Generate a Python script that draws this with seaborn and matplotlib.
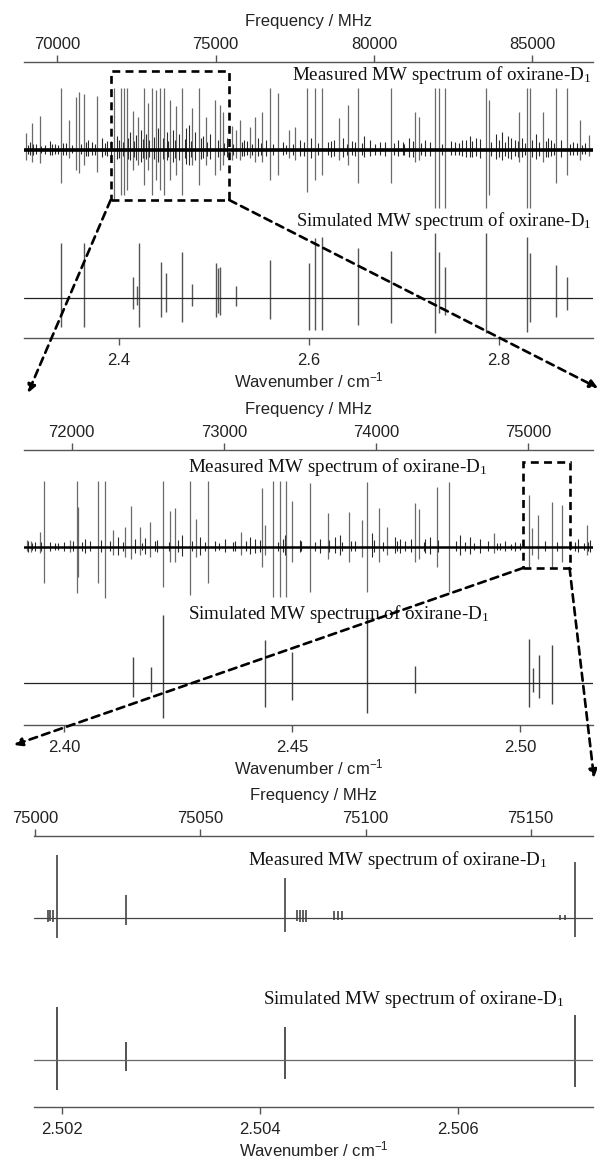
import matplotlib
matplotlib.use("Agg")
import matplotlib.pyplot as plt
import seaborn as sns
import pandas as pd
from matplotlib.patches import ConnectionPatch, Rectangle

MHZ_PER_WN = 29979.2458

# ---------------- Panel 1 (overview) ----------------
p1_xlim = (2.300, 2.899)
p1_bottom_ticks = [2.4, 2.6, 2.8]
p1_top_ticks = [70000, 75000, 80000, 85000]
p1_meas_wn = [2.3021, 2.3084, 2.3168, 2.3389, 2.3474, 2.3547, 2.3579, 2.3632, 2.3768, 2.3947,
              2.4021, 2.4053, 2.4084, 2.4147, 2.4200, 2.4263, 2.4305, 2.4347, 2.4389, 2.4432,
              2.4474, 2.4537, 2.4600, 2.4663, 2.4768, 2.4842, 2.4916, 2.5011, 2.5063, 2.5095,
              2.5189, 2.5232, 2.5274, 2.5379, 2.5432, 2.5505, 2.5589, 2.5674, 2.5789, 2.5853,
              2.5979, 2.6063, 2.6137, 2.6316, 2.6411, 2.6516, 2.6863, 2.7116, 2.7158, 2.7326,
              2.7368, 2.7432, 2.7863, 2.7895, 2.8211, 2.8295, 2.8326, 2.8463, 2.8600, 2.8716,
              2.8853, 2.8947]
p1_meas_up = [17, 27, 34, 62, 30, 53, 58, 56, 54, 62,
              62, 62, 62, 39, 33, 62, 47, 62, 60, 62,
              62, 50, 44, 62, 42, 62, 33, 50, 45, 38,
              24, 20, 30, 23, 33, 38, 62, 57, 20, 23,
              62, 62, 62, 32, 45, 62, 62, 38, 33, 62,
              62, 62, 62, 50, 38, 62, 62, 38, 62, 62,
              30, 15]
p1_meas_dn = [10, 12, 13, 33, 8, 20, 23, 15, 22, 50,
              45, 45, 40, 20, 15, 35, 20, 45, 30, 40,
              45, 30, 25, 45, 15, 35, 15, 25, 20, 15,
              10, 8, 10, 8, 12, 12, 30, 25, 8, 10,
              42, 30, 25, 10, 15, 33, 33, 12, 10, 58,
              58, 58, 58, 45, 12, 58, 58, 12, 33, 25,
              10, 6]
p1_grass_wn = [2.3063, 2.3126, 2.3221, 2.3274, 2.3326, 2.3442, 2.3505, 2.3674, 2.3716, 2.3821,
               2.3874, 2.3979, 2.4116, 2.4179, 2.4232, 2.4284, 2.4411, 2.4505, 2.4568, 2.4632,
               2.4705, 2.4737, 2.4800, 2.4884, 2.4958, 2.5137, 2.5316, 2.5347, 2.5463, 2.5547,
               2.5726, 2.5905, 2.6021, 2.6200, 2.6263, 2.6358, 2.6453, 2.6579, 2.6642, 2.6747,
               2.6937, 2.6989, 2.7053, 2.7221, 2.7495, 2.7537, 2.7611, 2.7695, 2.7758, 2.7968,
               2.8032, 2.8095, 2.8168, 2.8242, 2.8389, 2.8516, 2.8547, 2.8779, 2.8905,
               2.3040, 2.3100, 2.3180, 2.3300, 2.3360, 2.3410, 2.3600, 2.3650, 2.3750, 2.3850,
               2.3920, 2.4000, 2.4040, 2.4100, 2.4160, 2.4250, 2.4320, 2.4370, 2.4460, 2.4520,
               2.4590, 2.4690, 2.4760, 2.4860, 2.4930, 2.5040, 2.5110, 2.5200, 2.5290, 2.5400,
               2.5490, 2.5620, 2.5760, 2.5830, 2.5950, 2.6100, 2.6230, 2.6400, 2.6480, 2.6560,
               2.6700, 2.6800, 2.6900, 2.7000, 2.7090, 2.7180, 2.7270, 2.7400, 2.7580, 2.7650,
               2.7720, 2.7800, 2.7920, 2.8000, 2.8060, 2.8130, 2.8200, 2.8270, 2.8350, 2.8420,
               2.8490, 2.8580, 2.8650, 2.8750, 2.8820, 2.8870]
p1_grass_up = [8, 6, 5, 9, 6, 7, 5, 10, 8, 12, 9, 14, 18, 15, 20, 16, 22, 18, 20, 16,
               22, 25, 18, 14, 16, 12, 10, 9, 12, 10, 8, 10, 12, 8, 10, 12, 9, 14, 10, 8,
               10, 8, 12, 10, 9, 8, 10, 14, 12, 16, 18, 14, 10, 12, 16, 12, 10, 8, 7,
               5, 6, 4, 6, 5, 7, 6, 8, 6, 7, 9, 10, 8, 12, 9, 11, 10, 13, 12, 9,
               10, 11, 9, 12, 8, 10, 7, 6, 8, 6, 7, 6, 5, 6, 8, 7, 9, 6, 8, 7,
               6, 8, 7, 6, 9, 7, 8, 6, 7, 10, 9, 11, 8, 10, 8, 12, 9, 7, 10, 8,
               9, 7, 10, 6, 7, 5]
p1_grass_dn = [5, 4, 4, 5, 4, 5, 3, 6, 5, 7, 6, 9, 10, 10, 12, 9, 12, 10, 12, 10,
               14, 15, 10, 8, 9, 7, 6, 5, 6, 6, 5, 6, 8, 5, 6, 7, 5, 7, 6, 5,
               6, 5, 7, 6, 5, 5, 6, 7, 6, 9, 10, 8, 6, 7, 9, 7, 6, 5, 4,
               4, 5, 3, 5, 4, 5, 4, 6, 5, 5, 7, 8, 6, 9, 7, 8, 7, 9, 9, 7,
               8, 8, 7, 9, 6, 7, 5, 5, 6, 5, 5, 5, 4, 5, 6, 5, 7, 5, 6, 5,
               5, 6, 5, 5, 7, 5, 6, 5, 5, 7, 7, 8, 6, 7, 6, 9, 7, 5, 7, 6,
               7, 5, 7, 5, 5, 4]
p1_sim_wn = [2.3389, 2.3632, 2.4147, 2.4189, 2.4211, 2.4442, 2.4495, 2.4663, 2.4768, 2.5021,
             2.5042, 2.5063, 2.5232, 2.5589, 2.6000, 2.6063, 2.6137, 2.6516, 2.6863, 2.7326,
             2.7368, 2.7432, 2.7863, 2.8295, 2.8326, 2.8600, 2.8716]
p1_sim_up = [55, 55, 21, 12, 55, 36, 25, 46, 14, 35, 30, 31, 12, 38, 35, 60, 61, 50, 47, 65,
             46, 31, 65, 61, 45, 33, 21]
p1_sim_dn = [29, 29, 11, 7, 29, 19, 14, 24, 8, 19, 15, 17, 8, 21, 32, 32, 32, 27, 25, 35,
             15, 17, 35, 34, 24, 19, 12]

# ---------------- Panel 2 (zoom 1) ----------------
p2_xlim = (2.3912, 2.5160)
p2_bottom_ticks = [2.40, 2.45, 2.50]
p2_top_ticks = [72000, 73000, 74000, 75000]
p2_meas_wn = [2.39189, 2.39276, 2.39474, 2.39561, 2.40132, 2.40285, 2.40307, 2.40746, 2.40899, 2.41075,
              2.41338, 2.41469, 2.41667, 2.41886, 2.42171, 2.42325, 2.42434, 2.42763, 2.42895, 2.43158,
              2.43882, 2.44342, 2.44408, 2.44583, 2.44737, 2.44868, 2.45000, 2.45395, 2.45789, 2.46250,
              2.46535, 2.46645, 2.46908, 2.47083, 2.47697, 2.47785, 2.48180, 2.48443, 2.49430, 2.50197,
              2.50263, 2.50395, 2.50702, 2.50921, 2.51469]
p2_meas_up = [7, 6, 15, 66, 7, 66, 40, 66, 66, 17,
              20, 41, 20, 25, 66, 36, 39, 66, 28, 66,
              15, 59, 22, 66, 66, 66, 46, 64, 34, 35,
              27, 65, 39, 20, 44, 38, 60, 65, 14, 52,
              19, 32, 45, 42, 22]
p2_meas_dn = [4, 5, 6, 36, 5, 46, 30, 36, 51, 8,
              10, 12, 8, 10, 40, 15, 15, 48, 10, 36,
              8, 20, 8, 50, 50, 50, 15, 45, 12, 15,
              10, 45, 15, 8, 15, 12, 20, 45, 6, 20,
              8, 12, 20, 15, 8]
p2_grass_wn = [2.39211, 2.39364, 2.39693, 2.39868, 2.40461, 2.40570, 2.41184, 2.41557, 2.41776, 2.42039,
               2.42588, 2.42982, 2.43311, 2.43531, 2.43750, 2.44079, 2.44189, 2.44846, 2.45175, 2.45614,
               2.45943, 2.46053, 2.46382, 2.46754, 2.47259, 2.47368, 2.47478, 2.47917, 2.48026, 2.48684,
               2.48904, 2.49123, 2.49298, 2.49561, 2.49671, 2.49890, 2.50548, 2.51096, 2.51272, 2.51535,
               2.3930, 2.3950, 2.3980, 2.4000, 2.4020, 2.4040, 2.4080, 2.4100, 2.4130, 2.4170,
               2.4200, 2.4230, 2.4250, 2.4280, 2.4310, 2.4340, 2.4370, 2.4400, 2.4430, 2.4470,
               2.4480, 2.4520, 2.4550, 2.4580, 2.4610, 2.4630, 2.4680, 2.4700, 2.4730, 2.4760,
               2.4790, 2.4820, 2.4860, 2.4880, 2.4900, 2.4950, 2.4980, 2.5000, 2.5040, 2.5080,
               2.5120, 2.5140, 2.5150]
p2_grass_up = [6, 5, 5, 4, 8, 6, 10, 8, 9, 7, 12, 10, 6, 8, 6, 10, 8, 12, 7, 8,
               10, 12, 6, 14, 10, 8, 6, 8, 10, 12, 10, 8, 6, 4, 6, 5, 6, 5, 8, 7,
               4, 5, 4, 5, 6, 5, 7, 6, 5, 4, 6, 5, 7, 6, 5, 4, 5, 6, 7, 5,
               8, 6, 5, 7, 5, 6, 7, 5, 6, 8, 5, 7, 6, 5, 4, 4, 3, 4, 4, 5,
               5, 4, 5]
p2_grass_dn = [5, 4, 4, 3, 6, 4, 8, 6, 7, 5, 9, 8, 4, 5, 4, 7, 6, 8, 5, 6,
               6, 8, 4, 10, 6, 6, 4, 6, 7, 8, 7, 6, 4, 3, 4, 4, 4, 3, 5, 5,
               3, 4, 3, 4, 4, 4, 5, 4, 4, 3, 4, 4, 5, 4, 4, 3, 4, 4, 5, 4,
               5, 4, 4, 5, 4, 4, 5, 4, 4, 5, 4, 5, 4, 4, 3, 3, 3, 3, 3, 4,
               4, 3, 4]
p2_sim_wn = [2.41513, 2.41908, 2.42171, 2.44408, 2.45000, 2.46645, 2.47697, 2.50197, 2.50285, 2.50417, 2.50702]
p2_sim_up = [26, 16, 68, 43, 31, 68, 17, 44, 15, 28, 38]
p2_sim_dn = [14, 9, 35, 24, 17, 30, 10, 24, 9, 15, 21]

# ---------------- Panel 3 (zoom 2) ----------------
p3_xlim = (2.501717, 2.507364)
p3_bottom_ticks = [2.502, 2.504, 2.506]
p3_top_ticks = [75000, 75050, 75100, 75150]
p3_meas_wn = [2.501859, 2.501879, 2.501909, 2.501949, 2.502646, 2.504253, 2.504374, 2.504404,
              2.504434, 2.504465, 2.504747, 2.504788, 2.504828, 2.507030, 2.507081, 2.507182]
p3_meas_up = [8, 8, 8, 63, 23, 40, 8, 8, 8, 8, 7, 7, 7, 3, 3, 56]
p3_meas_dn = [4, 3, 4, 20, 7, 14, 3, 4, 4, 4, 2, 2, 2, 2, 2, 19]
p3_sim_wn = [2.501949, 2.502646, 2.504253, 2.507182]
p3_sim_up = [53, 18, 33, 45]
p3_sim_dn = [30, 11, 19, 27]

# zoom box (wavenumber range marked in panel 2)
box2_in_p2 = (2.50066, 2.51086)

label_meas = "Measured MW spectrum of oxirane-D$_1$"
label_sim = "Simulated MW spectrum of oxirane-D$_1$"

# ---------------- styling ----------------
sns.set_theme(style="white")
plt.rcParams["font.family"] = ["Liberation Sans", "DejaVu Sans"]
plt.rcParams["mathtext.default"] = "regular"
AXC = "#555555"

W, H = 597, 1157
fig = plt.figure(figsize=(W / 100, H / 100), dpi=100)


def fx(px):
    return px / W


def fy(py):
    return 1 - py / H


def make_panel(left, top, bottom, xlim, bticks, tticks, bfmt, right=593):
    ax = fig.add_axes([fx(left), fy(bottom), fx(right - left), (bottom - top) / H])
    ax.set_xlim(*xlim)
    ax.set_ylim(0, bottom - top)
    ax.set_facecolor("none")
    sns.despine(ax=ax, left=True, right=True, top=True, bottom=False)
    ax.spines["bottom"].set_color(AXC)
    ax.spines["bottom"].set_linewidth(1.0)
    ax.set_yticks([])
    ax.set_xticks(bticks)
    ax.set_xticklabels([bfmt % t for t in bticks])
    ax.tick_params(axis="x", direction="out", length=5, width=1, color=AXC,
                   labelsize=12, pad=5.5, labelcolor="#222222", bottom=True)
    ax.set_xlabel("Wavenumber / cm$^{-1}$", fontsize=12, labelpad=2, color="#222222")
    sec = ax.secondary_xaxis("top", functions=(lambda w: w * MHZ_PER_WN, lambda f: f / MHZ_PER_WN))
    sec.set_xticks(tticks)
    sec.set_xticklabels([str(t) for t in tticks])
    sec.spines["top"].set_color(AXC)
    sec.spines["top"].set_linewidth(1.0)
    sec.tick_params(axis="x", direction="out", length=5, width=1, color=AXC,
                    labelsize=12, pad=2.5, labelcolor="#222222")
    sec.set_xlabel("Frequency / MHz", fontsize=12, labelpad=7.5, color="#222222")
    return ax


def sticks(ax, wn, up, dn, base, color, lw, z=2):
    df = pd.DataFrame({"wn": wn, "up": up, "dn": dn})
    ax.vlines(df["wn"], base - df["dn"], base + df["up"], colors=color, lw=lw, zorder=z)


def serif_label(px, py, s, size=13.7):
    fig.text(fx(px), fy(py), s, ha="left", va="center", fontsize=size,
             family=["Liberation Serif", "DejaVu Serif"], color="#111111")


# Panel 1
ax1 = make_panel(24, 62, 338, p1_xlim, p1_bottom_ticks, p1_top_ticks, "%.1f")
sticks(ax1, p1_grass_wn, p1_grass_up, p1_grass_dn, 188, "#2a2a2a", 0.8)
sticks(ax1, p1_meas_wn, p1_meas_up, p1_meas_dn, 188, "#6a6a6a", 0.9)
ax1.axhline(188, color="black", lw=2.6, zorder=3)
sticks(ax1, p1_sim_wn, p1_sim_up, p1_sim_dn, 40, "#555555", 1.0)
ax1.axhline(40, color="#222222", lw=0.9, zorder=3)
serif_label(292, 75, label_meas)
serif_label(296, 221, label_sim, size=13.4)

# Panel 2
ax2 = make_panel(24, 450, 725, p2_xlim, p2_bottom_ticks, p2_top_ticks, "%.2f")
sticks(ax2, p2_grass_wn, p2_grass_up, p2_grass_dn, 178, "#2a2a2a", 0.8)
sticks(ax2, p2_meas_wn, p2_meas_up, p2_meas_dn, 178, "#6a6a6a", 0.9)
ax2.axhline(178, color="black", lw=1.8, zorder=3)
sticks(ax2, p2_sim_wn, p2_sim_up, p2_sim_dn, 42, "#444444", 1.0)
ax2.axhline(42, color="#222222", lw=0.9, zorder=3)
serif_label(188, 467, label_meas)
serif_label(188, 614, label_sim)

# Panel 3
ax3 = make_panel(34, 836, 1107, p3_xlim, p3_bottom_ticks, p3_top_ticks, "%.3f")
sticks(ax3, p3_meas_wn, p3_meas_up, p3_meas_dn, 189, "#333333", 1.1)
ax3.axhline(189, color="#444444", lw=0.9, zorder=3)
sticks(ax3, p3_sim_wn, p3_sim_up, p3_sim_dn, 47, "#444444", 1.3)
ax3.axhline(47, color="#666666", lw=0.9, zorder=3)
serif_label(248, 860, label_meas)
serif_label(263, 999, label_sim)

# Dashed zoom boxes and arrows
DASH = (0, (3, 2))
b1x0, b1x1 = ax2.get_xlim()
ax1.add_patch(Rectangle((b1x0, 138), b1x1 - b1x0, 129, fill=False, ec="black",
                        lw=1.9, ls=DASH, clip_on=False, zorder=5))
ax2.add_patch(Rectangle((box2_in_p2[0], 157), box2_in_p2[1] - box2_in_p2[0], 106, fill=False,
                        ec="black", lw=1.9, ls=DASH, clip_on=False, zorder=5))


def arrow(ax, xy, tip):
    cp = ConnectionPatch(xyA=xy, coordsA=ax.transData, xyB=(tip[0], H - tip[1]),
                         coordsB="figure pixels", arrowstyle="-|>", mutation_scale=12,
                         lw=1.9, ls=DASH, color="black", zorder=6)
    fig.add_artist(cp)


arrow(ax1, (b1x0, 138), (28, 393))
arrow(ax1, (b1x1, 138), (598, 388))
arrow(ax2, (box2_in_p2[0], 157), (14, 745))
arrow(ax2, (box2_in_p2[1], 157), (594, 778))

fig.savefig("out.png", dpi=100)
